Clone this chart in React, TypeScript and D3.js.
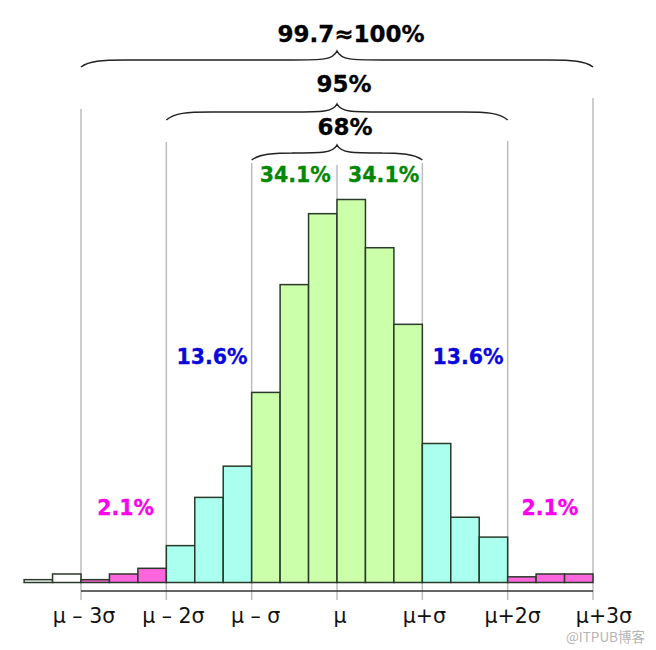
import React from "react";
import * as d3 from "d3";

// Histogram bins, 1/3 sigma wide, starting at -11/3 sigma
const binStarts: number[] = [-11/3, -10/3, -3, -8/3, -7/3, -2, -5/3, -4/3, -1, -2/3, -1/3, 0, 1/3, 2/3, 1, 4/3, 5/3, 2, 7/3, 8/3];
const binCounts: number[] = [1, 3, 1, 3, 5, 13, 30, 41, 67, 105, 130, 135, 118, 91, 49, 23, 16, 2, 3, 3];
const binZones: string[] = ["out", "out", "tail", "tail", "tail", "mid", "mid", "mid", "core", "core", "core", "core", "core", "core", "mid", "mid", "mid", "tail", "tail", "tail"];

const sigmaTicks: number[] = [-3, -2, -1, 0, 1, 2, 3];
const tickLabels: string[] = ["μ – 3σ", "μ – 2σ", "μ – σ", "μ", "μ+σ", "μ+2σ", "μ+3σ"];

const braceSpans: number[] = [3, 2, 1];
const braceLabels: string[] = ["99.7≈100%", "95%", "68%"];

const bandSigmas: number[] = [-0.5, 0.5, -1.5, 1.5, -2.5, 2.5];
const bandLabels: string[] = ["34.1%", "34.1%", "13.6%", "13.6%", "2.1%", "2.1%"];
const bandKinds: string[] = ["core", "core", "mid", "mid", "tail", "tail"];

const W = 656, H = 650;
const FONT = "'DejaVu Sans', Verdana, sans-serif";

const fills: Record<string, string> = { out: "#ffffff", tail: "#ff66dd", mid: "#aaffee", core: "#ccffaa" };
const textColors: Record<string, string> = { core: "#008800", mid: "#0808dd", tail: "#ff00ee" };

// layout
const lineTops: number[] = [109, 142, 163, 165, 163, 141, 98];
const tickDx: number[] = [3, 7, 4, 3, 2, 5, 11];
const braceY: { end: number; h: number; tip: number; label: number }[] = [
  { end: 67, h: 60, tip: 51, label: 42 },
  { end: 120, h: 112, tip: 104, label: 92 },
  { end: 160, h: 153, tip: 145, label: 135 },
];
const braceLabelDx: number[] = [14, 7, 8];
const bandY: number[] = [182, 182, 364, 364, 515, 515];
const bandDx: number[] = [1, 4, 3, 3, 2, -0.5];

export default function App() {
  const x = d3.scaleLinear().domain([-3, 3]).range([81, 593]);
  const y = d3.scaleLinear().domain([0, 135]).range([582.5, 199.5]);
  const binW = 1 / 3;

  const bracePath = (x1: number, x2: number, b: { end: number; h: number; tip: number }) => {
    const mid = (x1 + x2) / 2;
    const d = 45;
    const p = d3.path();
    p.moveTo(x1, b.end);
    p.bezierCurveTo(x1 + 8, b.h + 1, x1 + 20, b.h, x1 + d, b.h);
    p.lineTo(mid - d, b.h);
    p.bezierCurveTo(mid - 15, b.h, mid - 4, b.h, mid, b.tip);
    p.bezierCurveTo(mid + 4, b.h, mid + 15, b.h, mid + d, b.h);
    p.lineTo(x2 - d, b.h);
    p.bezierCurveTo(x2 - 20, b.h, x2 - 8, b.h + 1, x2, b.end);
    return p.toString();
  };

  return (
    <svg width={W} height={H} style={{ position: "absolute", left: 0, top: 0, background: "#fff" }} fontFamily={FONT}>
      <rect x={0} y={0} width={W} height={H} fill="#fff" />
      {/* gray sigma lines */}
      {sigmaTicks.map((s, i) => (
        <line key={"g" + i} x1={x(s)} x2={x(s)} y1={lineTops[i]} y2={600} stroke="#bdbdbd" strokeWidth={1.5} />
      ))}
      {/* bars */}
      {binStarts.map((s, i) => (
        <rect
          key={"b" + i}
          x={x(s)}
          y={y(binCounts[i])}
          width={x(s + binW) - x(s)}
          height={y(0) - y(binCounts[i])}
          fill={fills[binZones[i]]}
          stroke="#2a3a2a"
          strokeWidth={1.5}
        />
      ))}
      {/* axis line */}
      <line x1={x(-3)} x2={x(3)} y1={591} y2={591} stroke="#333" strokeWidth={1.5} />
      {/* tick labels */}
      {sigmaTicks.map((s, i) => (
        <text key={"t" + i} x={x(s) + tickDx[i]} y={623} textAnchor="middle" fontSize={20.5} fill="#111">
          {tickLabels[i]}
        </text>
      ))}
      {/* braces */}
      {braceSpans.map((s, i) => (
        <g key={"br" + i}>
          <path d={bracePath(x(-s), x(s), braceY[i])} fill="none" stroke="#222" strokeWidth={1.5} />
          <text x={x(0) + braceLabelDx[i]} y={braceY[i].label} textAnchor="middle" fontSize={23} fontWeight="bold" fill="#000" stroke="#000" strokeWidth={0.3}>
            {braceLabels[i]}
          </text>
        </g>
      ))}
      {/* band percentages */}
      {bandSigmas.map((s, i) => (
        <text key={"p" + i} x={x(s) + bandDx[i]} y={bandY[i]} textAnchor="middle" fontSize={20.5} fontWeight="bold" fill={textColors[bandKinds[i]]} stroke={textColors[bandKinds[i]]} strokeWidth={0.3}>
          {bandLabels[i]}
        </text>
      ))}
      {/* watermark */}
      <text x={645} y={642} textAnchor="end" fontSize={13.5} fill="#b5b5b5" fontFamily="'Noto Sans CJK SC', 'DejaVu Sans', sans-serif">
        @ITPUB博客
      </text>
    </svg>
  );
}
